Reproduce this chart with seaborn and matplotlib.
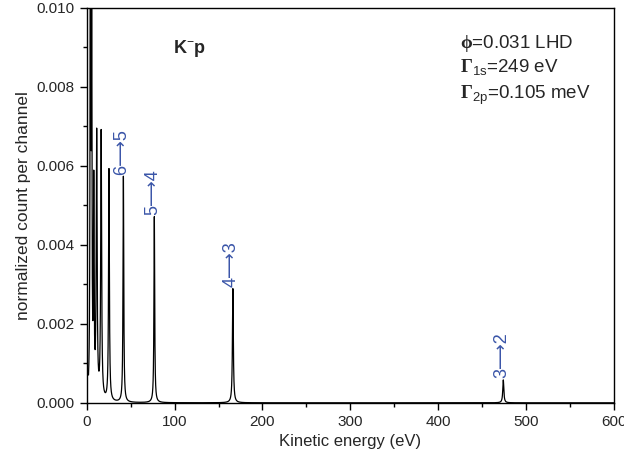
import numpy as np
import pandas as pd
import matplotlib
matplotlib.use("Agg")
import matplotlib.pyplot as plt
from matplotlib.ticker import MultipleLocator
import seaborn as sns

# Peak parameters (transition energy, eV / peak height / half width, eV)
transitions = ["3→2", "4→3", "5→4", "6→5", "7→6", "8→7", "9→8", "10→9", "11→10", "12→11"]
peak_energy = [474.0, 166.3, 76.9, 41.7, 25.3, 16.4, 11.3, 8.0, 5.6, 4.2]
peak_height = [0.00058, 0.00289, 0.00471, 0.00572, 0.00587, 0.00676, 0.00666, 0.0052, 0.0097, 0.016]
peak_width = [0.7, 0.6, 0.5, 0.5, 0.55, 0.6, 0.6, 0.45, 0.4, 0.4]
labelled = ["3→2", "4→3", "5→4", "6→5"]

x_ticks = [0, 100, 200, 300, 400, 500, 600]
y_ticks = [0.000, 0.002, 0.004, 0.006, 0.008, 0.010]

sns.set_style("ticks")
plt.rcParams["font.family"] = ["Liberation Sans", "DejaVu Sans"]
plt.rcParams["mathtext.fontset"] = "custom"
plt.rcParams["mathtext.rm"] = "Liberation Sans"
plt.rcParams["mathtext.bf"] = "Liberation Serif:bold"

grid = np.arange(2.0, 600.0, 0.05)
spec = np.zeros_like(grid)
for e, h, g in zip(peak_energy, peak_height, peak_width):
    spec += h * g**2 / ((grid - e) ** 2 + g**2)
df = pd.DataFrame({"E": grid, "counts": spec})

fig = plt.figure(figsize=(6.24, 4.63), dpi=100)
ax = fig.add_axes([0.139, 0.130, 0.845, 0.853])
sns.lineplot(data=df, x="E", y="counts", ax=ax, color="black", linewidth=0.9)

ax.set_xlim(0, 600)
ax.set_ylim(0, 0.010)
ax.set_xticks(x_ticks)
ax.set_yticks(y_ticks)
ax.set_xticklabels([str(v) for v in x_ticks])
ax.set_yticklabels([f"{v:.3f}" for v in y_ticks])
ax.xaxis.set_minor_locator(MultipleLocator(50))
ax.yaxis.set_minor_locator(MultipleLocator(0.001))
ax.tick_params(which="both", direction="out", color="black", width=1.0, labelsize=11)
ax.tick_params(which="major", length=5)
ax.tick_params(which="minor", length=3)
for s in ax.spines.values():
    s.set_visible(True)
    s.set_color("black")
    s.set_linewidth(1.0)
ax.set_xlabel("Kinetic energy (eV)", fontsize=12)
ax.set_ylabel("normalized count per channel", fontsize=12.5)

blue = "#3a55a8"
for t, e, h in zip(transitions, peak_energy, peak_height):
    if t in labelled:
        ax.text(e - 1.5, h + 0.00005, t.replace("→", "⟶"), rotation=90, ha="center", va="bottom",
                color=blue, fontsize=13, family=["Liberation Sans", "DejaVu Sans"])

ax.text(117, 0.00886, r"K$^{\mathbf{-}}$p", fontsize=13, fontweight="bold", ha="center", va="baseline")
ax.text(425, 0.00899, r"$\mathbf{\phi}$=0.031 LHD", fontsize=13.5, ha="left", va="baseline")
ax.text(425, 0.00835, r"$\mathbf{\Gamma}_{\rm 1s}$=249 eV", fontsize=13.5, ha="left", va="baseline")
ax.text(425, 0.00771, r"$\mathbf{\Gamma}_{\rm 2p}$=0.105 meV", fontsize=13.5, ha="left", va="baseline")

fig.savefig("out.png", dpi=100)
